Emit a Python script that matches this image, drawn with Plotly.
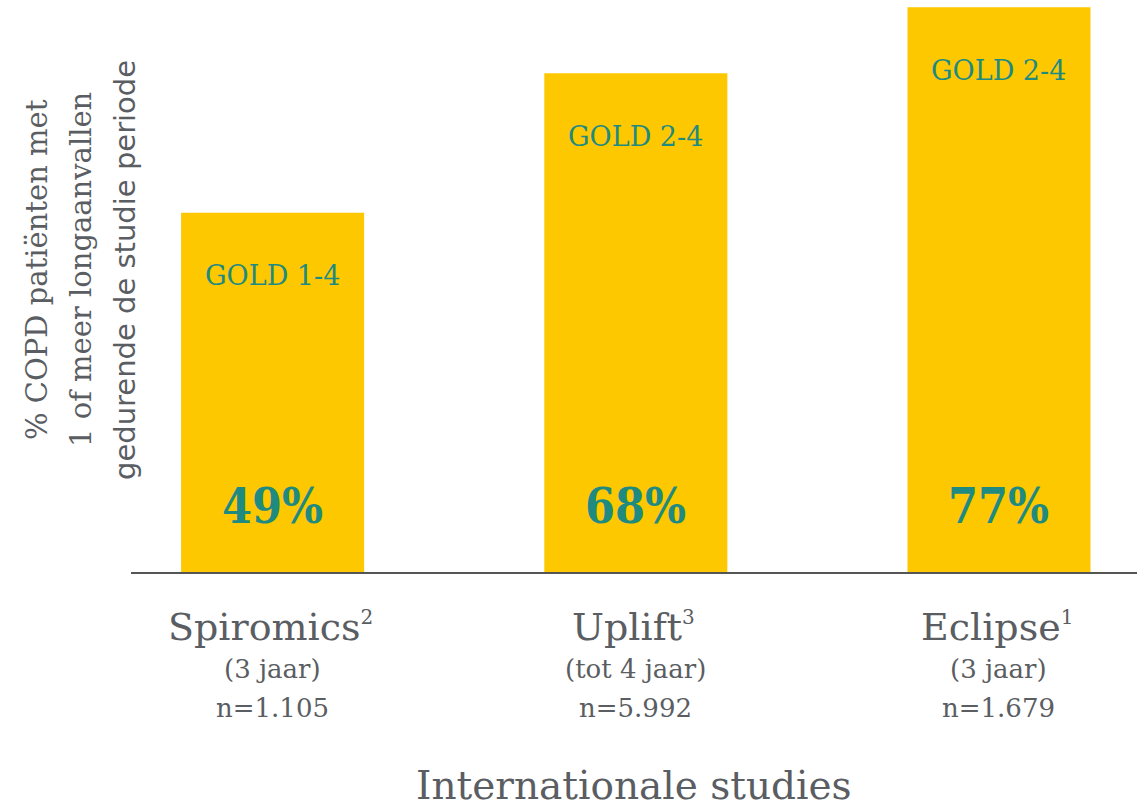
import plotly.graph_objects as go

# Study data
categories = ["Spiromics", "Uplift", "Eclipse"]
references = ["2", "3", "1"]
durations = ["(3 jaar)", "(tot 4 jaar)", "(3 jaar)"]
sample_sizes = ["n=1.105", "n=5.992", "n=1.679"]
gold_stages = ["GOLD 1-4", "GOLD 2-4", "GOLD 2-4"]
values = [49, 68, 77]

y_title_lines = [
    "% COPD patiënten met",
    "1 of meer longaanvallen",
    "gedurende de studie periode",
]
x_title = "Internationale studies"

BAR = "#FDC800"
TEAL = "#1F8A80"
GRAY = "#5A5D62"
SLAB = "DejaVu Serif, serif"
SLAB_NARROW = "DejaVu Serif Condensed, DejaVu Serif, serif"
SANS = "DejaVu Sans, sans-serif"

xs = list(range(len(categories)))

fig = go.Figure(
    go.Bar(
        x=xs,
        y=values,
        marker=dict(color=BAR, line=dict(width=0)),
        width=0.504,
        hoverinfo="skip",
    )
)

annotations = []
for i, (cat, ref, dur, n, g, v) in enumerate(
    zip(categories, references, durations, sample_sizes, gold_stages, values)
):
    # GOLD stage near top of bar
    annotations.append(dict(
        x=i, y=v, xref="x", yref="y", text=g, showarrow=False,
        yanchor="middle", yshift=-63,
        font=dict(family=SLAB, size=27, color=TEAL),
    ))
    # percentage near bottom of bar
    annotations.append(dict(
        x=i, y=0, xref="x", yref="y", text=f"<b>{v}%</b>", showarrow=False,
        yanchor="middle", yshift=66,
        font=dict(family=SLAB_NARROW, size=48, color=TEAL),
    ))
    # category label block under the axis
    annotations.append(dict(
        x=i, y=0, xref="x", yref="y",
        text=f"{cat}<sup><span style='font-size:20px'>{ref}</span></sup>",
        showarrow=False,
        yanchor="middle", yshift=-55, xshift=-2,
        font=dict(family=SLAB, size=38, color=GRAY),
    ))
    annotations.append(dict(
        x=i, y=0, xref="x", yref="y", text=dur, showarrow=False,
        yanchor="middle", yshift=-97,
        font=dict(family=SLAB, size=26, color=GRAY),
    ))
    annotations.append(dict(
        x=i, y=0, xref="x", yref="y", text=n, showarrow=False,
        yanchor="middle", yshift=-136,
        font=dict(family=SLAB, size=26, color=GRAY),
    ))

# x-axis title
annotations.append(dict(
    x=0.5, y=0, xref="paper", yref="paper", text=x_title, showarrow=False,
    yanchor="middle", yshift=-213,
    font=dict(family=SLAB, size=39, color=GRAY),
))

# rotated y-axis title, three lines
y_title_fonts = [SLAB, SLAB, SANS]
y_title_shifts = [-94, -50, -6]
for line, fam, sh in zip(y_title_lines, y_title_fonts, y_title_shifts):
    annotations.append(dict(
        x=0, y=0.528, xref="paper", yref="paper", text=line, showarrow=False,
        textangle=-90, xanchor="center", yanchor="middle", xshift=sh,
        font=dict(family=fam, size=29, color=GRAY),
    ))

fig.update_layout(
    width=1137,
    height=807,
    margin=dict(l=131, r=0, t=0, b=235),
    paper_bgcolor="white",
    plot_bgcolor="white",
    showlegend=False,
    annotations=annotations,
    xaxis=dict(
        range=[-0.39, 2.38],
        showticklabels=False,
        ticks="",
        showgrid=False,
        zeroline=False,
        showline=True,
        linecolor="#555555",
        linewidth=2,
    ),
    yaxis=dict(
        range=[0, 78],
        visible=False,
        showgrid=False,
        zeroline=False,
    ),
)

fig.write_html("out.html")
